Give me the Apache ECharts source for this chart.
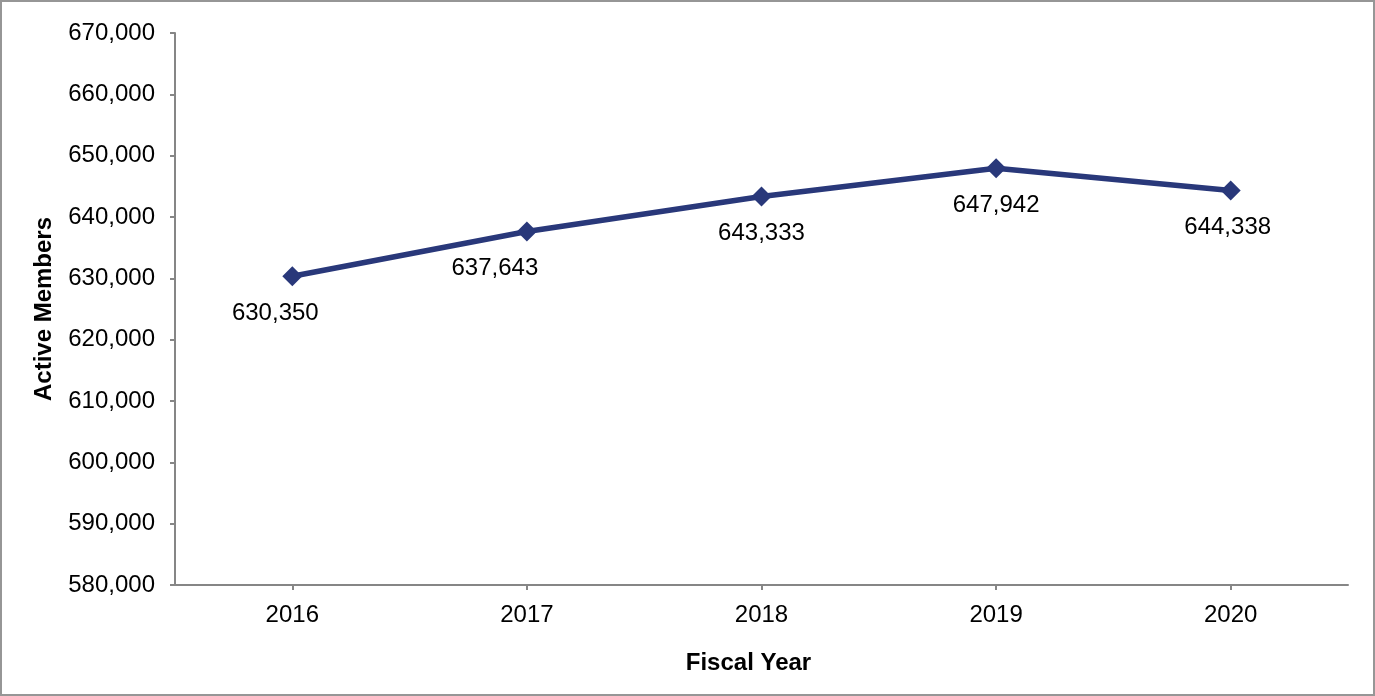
<!DOCTYPE html>
<html>
<head>
<meta charset="utf-8">
<script src="https://cdn.jsdelivr.net/npm/echarts@6/dist/echarts.min.js"></script>
<style>
html,body{margin:0;padding:0;background:#fff;}
.chartWrapper{
    width:1375px;
    height:696px;
    box-sizing:border-box;
    border:2px solid #969696;
    position:relative;
}
#main{
    position:absolute;
    left:-2px;
    top:-2px;
    width:1375px;
    height:696px;
}
</style>
</head>
<body>
<div class="chartWrapper"><div id="main"></div></div>
<script>
// data
var years = ['2016', '2017', '2018', '2019', '2020'];
var activeMembers = [630350, 637643, 643333, 647942, 644338];
var yTicks = [580000, 590000, 600000, 610000, 620000, 630000, 640000, 650000, 660000, 670000];

var fontName = '"Liberation Sans", Arial, sans-serif';
var lineColor = '#29387a';
var axisGray = '#868686';

// data labels in the original are nudged left for the first two points
var labelDx = [-17, -32, 0, 0, -3];

function fmt(v){
    return v.toString().replace(/\B(?=(\d{3})+(?!\d))/g, ',');
}

var myChart = echarts.init(document.getElementById('main'));

var option = {
    backgroundColor:'transparent',
    animation:false,
    textStyle:{
        fontFamily:fontName,
        color:'#000',
    },
    grid:{
        left:175,
        right:27,
        top:33,
        bottom:111,
        containLabel:false,
    },
    xAxis:{
        type:'category',
        data:years,
        boundaryGap:true,
        name:'Fiscal Year',
        nameLocation:'middle',
        nameGap:66,
        nameTextStyle:{
            fontFamily:fontName,
            fontWeight:'bold',
            fontSize:24,
            color:'#000',
            padding:[0, 26, 0, 0],
        },
        axisLine:{
            lineStyle:{color:axisGray, width:2},
        },
        axisTick:{
            show:true,
            alignWithLabel:true,
            length:5,
            lineStyle:{color:axisGray, width:2},
        },
        axisLabel:{
            margin:18,
            fontFamily:fontName,
            fontSize:24,
            color:'#000',
        },
        splitLine:{show:false},
    },
    yAxis:{
        type:'value',
        min:yTicks[0],
        max:yTicks[yTicks.length - 1],
        interval:yTicks[1] - yTicks[0],
        name:'Active Members',
        nameLocation:'middle',
        nameGap:119,
        nameTextStyle:{
            fontFamily:fontName,
            fontWeight:'bold',
            fontSize:24,
            color:'#000',
        },
        axisLine:{
            show:true,
            lineStyle:{color:axisGray, width:2},
        },
        axisTick:{
            show:true,
            length:5,
            lineStyle:{color:axisGray, width:2},
        },
        axisLabel:{
            margin:20,
            fontFamily:fontName,
            fontSize:24,
            color:'#000',
            padding:[3, 0, 0, 0],
            formatter:function(v){ return fmt(v); },
        },
        splitLine:{show:false},
    },
    series:[
        {
            name:'Active Members',
            type:'line',
            data:activeMembers.map(function(v, i){
                return {
                    value:v,
                    label:{offset:[labelDx[i], 0]},
                };
            }),
            symbol:'diamond',
            symbolSize:20,
            showSymbol:true,
            smooth:false,
            lineStyle:{
                color:lineColor,
                width:5.5,
            },
            itemStyle:{
                color:lineColor,
            },
            label:{
                show:true,
                position:'bottom',
                distance:15,
                fontFamily:fontName,
                fontSize:24,
                color:'#000',
                formatter:function(p){ return fmt(p.value); },
            },
        },
    ],
};

myChart.setOption(option);
</script>
</body>
</html>
